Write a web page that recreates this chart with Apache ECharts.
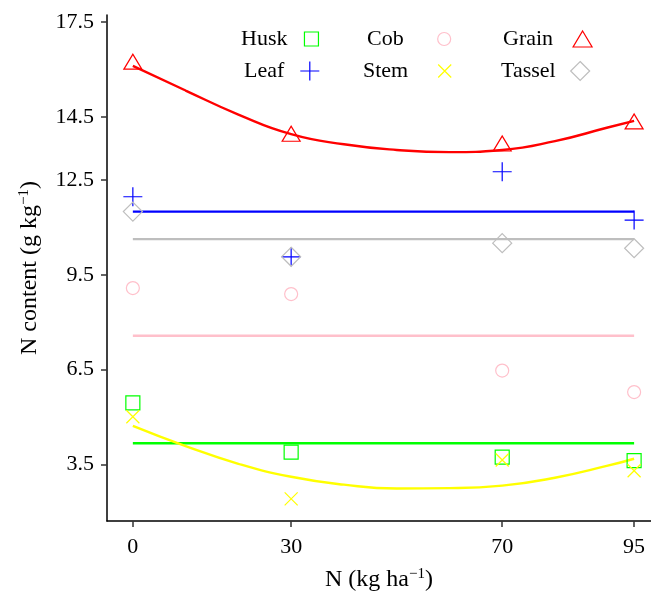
<!DOCTYPE html>
<html>
<head>
<meta charset="utf-8">
<script src="https://cdn.jsdelivr.net/npm/echarts@6/dist/echarts.min.js"></script>
<style>
html,body{margin:0;padding:0;background:#fff;}
#chart{width:651px;height:593px;}
</style>
</head>
<body>
<div id="chart"></div>
<script>
// ---- data ----
const nLevels = [0, 30, 70, 95];
const husk   = [5.45, 3.89, 3.73, 3.62];
const leaf   = [11.97, 10.07, 12.76, 11.23];
const cob    = [9.08, 8.89, 6.47, 5.79];
const stem   = [5.01, 2.41, 3.64, 3.30];
const grain  = [16.18, 13.90, 13.59, 14.29];
const tassel = [11.50, 10.07, 10.50, 10.34];

// horizontal fitted lines (mean level), drawn from first to last N level
const huskLine   = 4.17;
const leafLine   = 11.50;
const cobLine    = 7.57;
const tasselLine = 10.63;

// curved fitted lines
const fitN     = [0, 10, 20, 30, 40, 50, 60, 70, 80, 90, 95];
const stemFit  = [4.72, 4.08, 3.52, 3.11, 2.86, 2.74, 2.75, 2.83, 3.08, 3.46, 3.68];
const grainFit = [16.11, 15.33, 14.57, 13.95, 13.63, 13.45, 13.38, 13.45, 13.73, 14.16, 14.37];

const xTicks = [0, 30, 70, 95];
const yTicks = [3.5, 6.5, 9.5, 12.5, 14.5, 17.5];

const FONT = 'Liberation Serif';
const pairs = (xs, ys) => xs.map((x, i) => [x, ys[i]]);
const flat = (v) => [[nLevels[0], v], [nLevels[nLevels.length - 1], v]];

const PLUS = 'path://M0,9.5L19,9.5M9.5,0L9.5,19';
const CROSS = 'path://M0,0L13,13M0,13L13,0';

function pts(name, data, color, symbol, size, offset) {
  return {
    name, type: 'scatter', data: pairs(nLevels, data),
    symbol, symbolSize: size, symbolOffset: offset || [0, 0],
    itemStyle: { color: 'rgba(0,0,0,0)', borderColor: color, borderWidth: 1.2, opacity: 1 },
    emphasis: { disabled: true }, z: 3
  };
}
function fit(name, data, color) {
  return {
    name, type: 'line', data, smooth: true, showSymbol: false, symbol: 'none',
    lineStyle: { color, width: 2.4 }, emphasis: { disabled: true }, z: 2, silent: true
  };
}
function leg(name, left, top, w, h, padRight) {
  return {
    data: [name], left, top, orient: 'horizontal', align: 'right', padding: 0,
    itemWidth: w, itemHeight: h, selectedMode: false,
    itemStyle: { borderWidth: 1.2 },
    textStyle: { fontFamily: FONT, fontSize: 22, color: '#000', lineHeight: 22, padding: [0, padRight, 0, 0] }
  };
}

const chart = echarts.init(document.getElementById('chart'), null, { renderer: 'canvas' });
chart.setOption({
  backgroundColor: '#fff',
  animation: false,
  grid: { left: 107, right: 0, top: 15, bottom: 72, containLabel: false, outerBoundsMode: 'none' },
  legend: [
    leg('Husk', 241, 28, 14, 14, 12),
    leg('Leaf', 244, 60, 19, 19, 11),
    leg('Cob', 367, 28, 13, 13, 29),
    leg('Stem', 363, 60, 13, 13, 25),
    leg('Grain', 503, 28, 19, 16, 15),
    leg('Tassel', 501, 60, 19, 19, 10)
  ],
  xAxis: {
    type: 'value', min: -4.9, max: 98.2,
    splitLine: { show: false },
    axisLine: { show: true, onZero: false, lineStyle: { color: '#000', width: 1.5 } },
    axisTick: { show: true, customValues: xTicks, length: 6, lineStyle: { color: '#333', width: 1.5 } },
    axisLabel: { customValues: xTicks, fontFamily: FONT, fontSize: 22, color: '#000', margin: 15 },
    name: '{t|N (kg ha}{s|−1}{t|)}',
    nameLocation: 'middle', nameGap: 46,
    nameTextStyle: {
      fontFamily: FONT, fontSize: 24, color: '#000',
      rich: {
        t: { fontFamily: FONT, fontSize: 24, color: '#000', lineHeight: 26 },
        s: { fontFamily: FONT, fontSize: 15, color: '#000', verticalAlign: 'top', lineHeight: 15 }
      }
    }
  },
  yAxis: {
    type: 'value', min: 1.71, max: 17.72,
    splitLine: { show: false },
    axisLine: { show: true, onZero: false, lineStyle: { color: '#000', width: 1.5 } },
    axisTick: { show: true, customValues: yTicks, length: 6, lineStyle: { color: '#333', width: 1.5 } },
    axisLabel: { customValues: yTicks, fontFamily: FONT, fontSize: 22, color: '#000', margin: 13,
      formatter: (v) => v.toFixed(1) },
    name: '{t|N content (g kg}{s|−1}{t|)}',
    nameLocation: 'middle', nameGap: 64, nameRotate: 90,
    nameTextStyle: {
      fontFamily: FONT, fontSize: 24, color: '#000',
      rich: {
        t: { fontFamily: FONT, fontSize: 24, color: '#000', lineHeight: 26 },
        s: { fontFamily: FONT, fontSize: 15, color: '#000', verticalAlign: 'top', lineHeight: 15 }
      }
    }
  },
  series: [
    fit('Husk fit', flat(huskLine), '#00FF00'),
    fit('Leaf fit', flat(leafLine), '#0000FF'),
    fit('Cob fit', flat(cobLine), '#FFC0CB'),
    fit('Tassel fit', flat(tasselLine), '#BEBEBE'),
    fit('Stem fit', pairs(fitN, stemFit), '#FFFF00'),
    fit('Grain fit', pairs(fitN, grainFit), '#FF0000'),
    pts('Husk', husk, '#00FF00', 'rect', 14),
    pts('Leaf', leaf, '#0000FF', PLUS, 19),
    pts('Cob', cob, '#FFC0CB', 'circle', 13),
    pts('Stem', stem, '#FFFF00', CROSS, 13),
    pts('Grain', grain, '#FF0000', 'triangle', [18, 15], [0, -2]),
    pts('Tassel', tassel, '#BEBEBE', 'diamond', 19)
  ]
});
</script>
</body>
</html>
